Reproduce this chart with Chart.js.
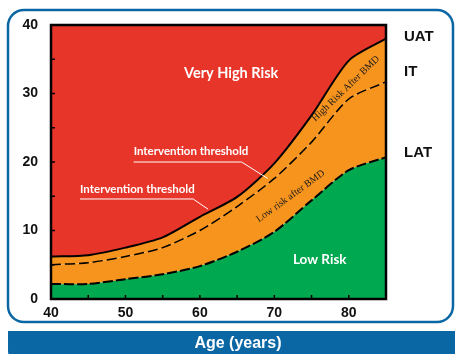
<!DOCTYPE html>
<html><head><meta charset="utf-8">
<script src="https://cdn.jsdelivr.net/npm/chart.js@4/dist/chart.umd.min.js"></script>
<style>html,body{margin:0;padding:0;background:#fff;}canvas{display:block;}</style>
</head><body>
<canvas id="c" width="455" height="354"></canvas>
<script>
// ---- data ----
const ages = [40, 45, 50, 55, 60, 65, 70, 75, 80, 85];
const uat  = [6.2, 6.4, 7.5, 9.0, 12.0, 14.9, 19.8, 26.8, 34.8, 38.0];
const it   = [5.0, 5.3, 6.2, 7.5, 10.0, 13.5, 17.6, 22.9, 29.2, 31.7];
const lat  = [2.2, 2.2, 2.9, 3.6, 4.8, 6.9, 9.8, 14.4, 18.8, 20.7];
const yMax = 40;
const xLabelTicks = [40, 50, 60, 70, 80];
const yLabelTicks = [0, 10, 20, 30, 40];
const xAxisTitle = 'Age (years)';
const zoneLabels = ['Very High Risk', 'Low Risk'];
const thresholdNames = ['UAT', 'IT', 'LAT'];

const RED = '#e8352a', ORANGE = '#f7941e', GREEN = '#00a850', BLUE = '#0b67a4';
const pts = arr => ages.map((a, i) => ({x: a, y: arr[i]}));

const decor = {
  id: 'decor',
  beforeDraw(chart) {
    const c = chart.ctx;
    c.save();
    c.fillStyle = '#fff';
    c.fillRect(0, 0, chart.width, chart.height);
    // frame
    c.strokeStyle = BLUE; c.lineWidth = 2.5;
    c.beginPath(); c.roundRect(8, 10, 445, 312, 16); c.stroke();
    // bottom bar
    c.fillStyle = BLUE;
    c.beginPath(); c.roundRect(8, 331, 460, 30, [0, 0, 0, 10]); c.fill();
    c.fillStyle = '#fff';
    c.font = 'bold 16px "Liberation Sans", Arial, sans-serif';
    c.textAlign = 'center'; c.textBaseline = 'middle';
    c.fillText(xAxisTitle, 238, 344);
    c.restore();
  },
  afterDatasetsDraw(chart) {
    const c = chart.ctx, a = chart.chartArea;
    const xs = chart.scales.x, ys = chart.scales.y;
    const X = v => xs.getPixelForValue(v), Y = v => ys.getPixelForValue(v);
    c.save();
    // inward ticks
    c.strokeStyle = '#000'; c.lineWidth = 1.5;
    for (let v = 5; v < yMax; v += 5) {
      c.beginPath(); c.moveTo(a.left, Y(v)); c.lineTo(a.left + 4, Y(v)); c.stroke();
    }
    for (let v = 45; v < 85; v += 5) {
      c.beginPath(); c.moveTo(X(v), a.bottom); c.lineTo(X(v), a.bottom - 4); c.stroke();
    }
    // plot box
    c.lineWidth = 2.5;
    c.strokeRect(a.left, a.top, a.right - a.left, a.bottom - a.top);

    // zone labels
    c.fillStyle = '#fff';
    c.textAlign = 'center'; c.textBaseline = 'middle';
    c.font = 'bold 14.5px Lato, sans-serif';
    c.fillText(zoneLabels[0], X(64.2), Y(33.0));
    c.font = 'bold 13.5px Lato, sans-serif';
    c.fillText(zoneLabels[1], X(76.1), Y(5.8));

    // intervention threshold labels with leader lines
    c.font = 'bold 11.5px Lato, sans-serif';
    c.textAlign = 'left';
    c.fillText('Intervention threshold', X(51.1), Y(21.5));
    c.fillText('Intervention threshold', X(43.9), Y(16.0));
    c.strokeStyle = '#fff'; c.lineWidth = 1;
    c.beginPath();
    c.moveTo(X(51.1), Y(20.0)); c.lineTo(X(65.6), Y(20.0)); c.lineTo(X(69.1), Y(17.6));
    c.moveTo(X(43.9), Y(14.6)); c.lineTo(X(59.1), Y(14.6)); c.lineTo(X(61.1), Y(13.1));
    c.stroke();

    // rotated serif labels
    c.fillStyle = '#1a1a1a';
    c.textAlign = 'center';
    c.font = '10px "Liberation Serif", serif';
    c.save(); c.translate(X(79.6), Y(30.7)); c.rotate(-44 * Math.PI / 180);
    c.fillText('High Risk After BMD', 0, 0); c.restore();
    c.save(); c.translate(X(72.2), Y(15.0)); c.rotate(-36 * Math.PI / 180);
    c.fillText('Low risk after BMD', 0, 0); c.restore();

    // right-side threshold names
    c.fillStyle = '#111';
    c.textAlign = 'left';
    c.font = 'bold 15px "Liberation Sans", Arial, sans-serif';
    c.fillText(thresholdNames[0], 404, Y(38.3));
    c.fillText(thresholdNames[1], 404, Y(33.1));
    c.fillText(thresholdNames[2], 404, Y(21.3));
    c.restore();
  }
};

new Chart(document.getElementById('c'), {
  type: 'line',
  data: {
    datasets: [
      {label: 'LAT', data: pts(lat), fill: 'origin', backgroundColor: GREEN,
       borderColor: '#000', borderWidth: 2, borderDash: [10, 3], pointRadius: 0, tension: 0.25},
      {label: 'IT', data: pts(it), fill: '-1', backgroundColor: ORANGE,
       borderColor: '#000', borderWidth: 1.5, borderDash: [10, 4], pointRadius: 0, tension: 0.25},
      {label: 'UAT', data: pts(uat), fill: '-1', backgroundColor: ORANGE,
       borderColor: '#000', borderWidth: 2, pointRadius: 0, tension: 0.25},
      {label: 'top', data: pts(ages.map(() => yMax)), fill: '-1', backgroundColor: RED,
       borderWidth: 0, borderColor: 'rgba(0,0,0,0)', pointRadius: 0}
    ]
  },
  options: {
    responsive: false, animation: false,
    layout: {padding: {left: 0, right: 69, top: 25, bottom: 0}},
    plugins: {legend: {display: false}, tooltip: {enabled: false}},
    scales: {
      x: {type: 'linear', min: 40, max: 85,
          grid: {display: false, drawTicks: false}, border: {display: false},
          afterFit: s => { s.height = 55; },
          ticks: {stepSize: 5, autoSkip: false, maxRotation: 0, padding: 6, color: '#111',
                  font: {family: '"Liberation Sans", Arial, sans-serif', size: 14, weight: 'bold'},
                  callback: v => xLabelTicks.includes(v) ? String(v) : ''}},
      y: {min: 0, max: yMax,
          grid: {display: false, drawTicks: false}, border: {display: false},
          afterFit: s => { s.width = 51; },
          ticks: {stepSize: 5, autoSkip: false, padding: 13, color: '#111',
                  font: {family: '"Liberation Sans", Arial, sans-serif', size: 14, weight: 'bold'},
                  callback: v => yLabelTicks.includes(v) ? String(v) : ''}}
    }
  },
  plugins: [decor]
});
</script>
</body></html>
